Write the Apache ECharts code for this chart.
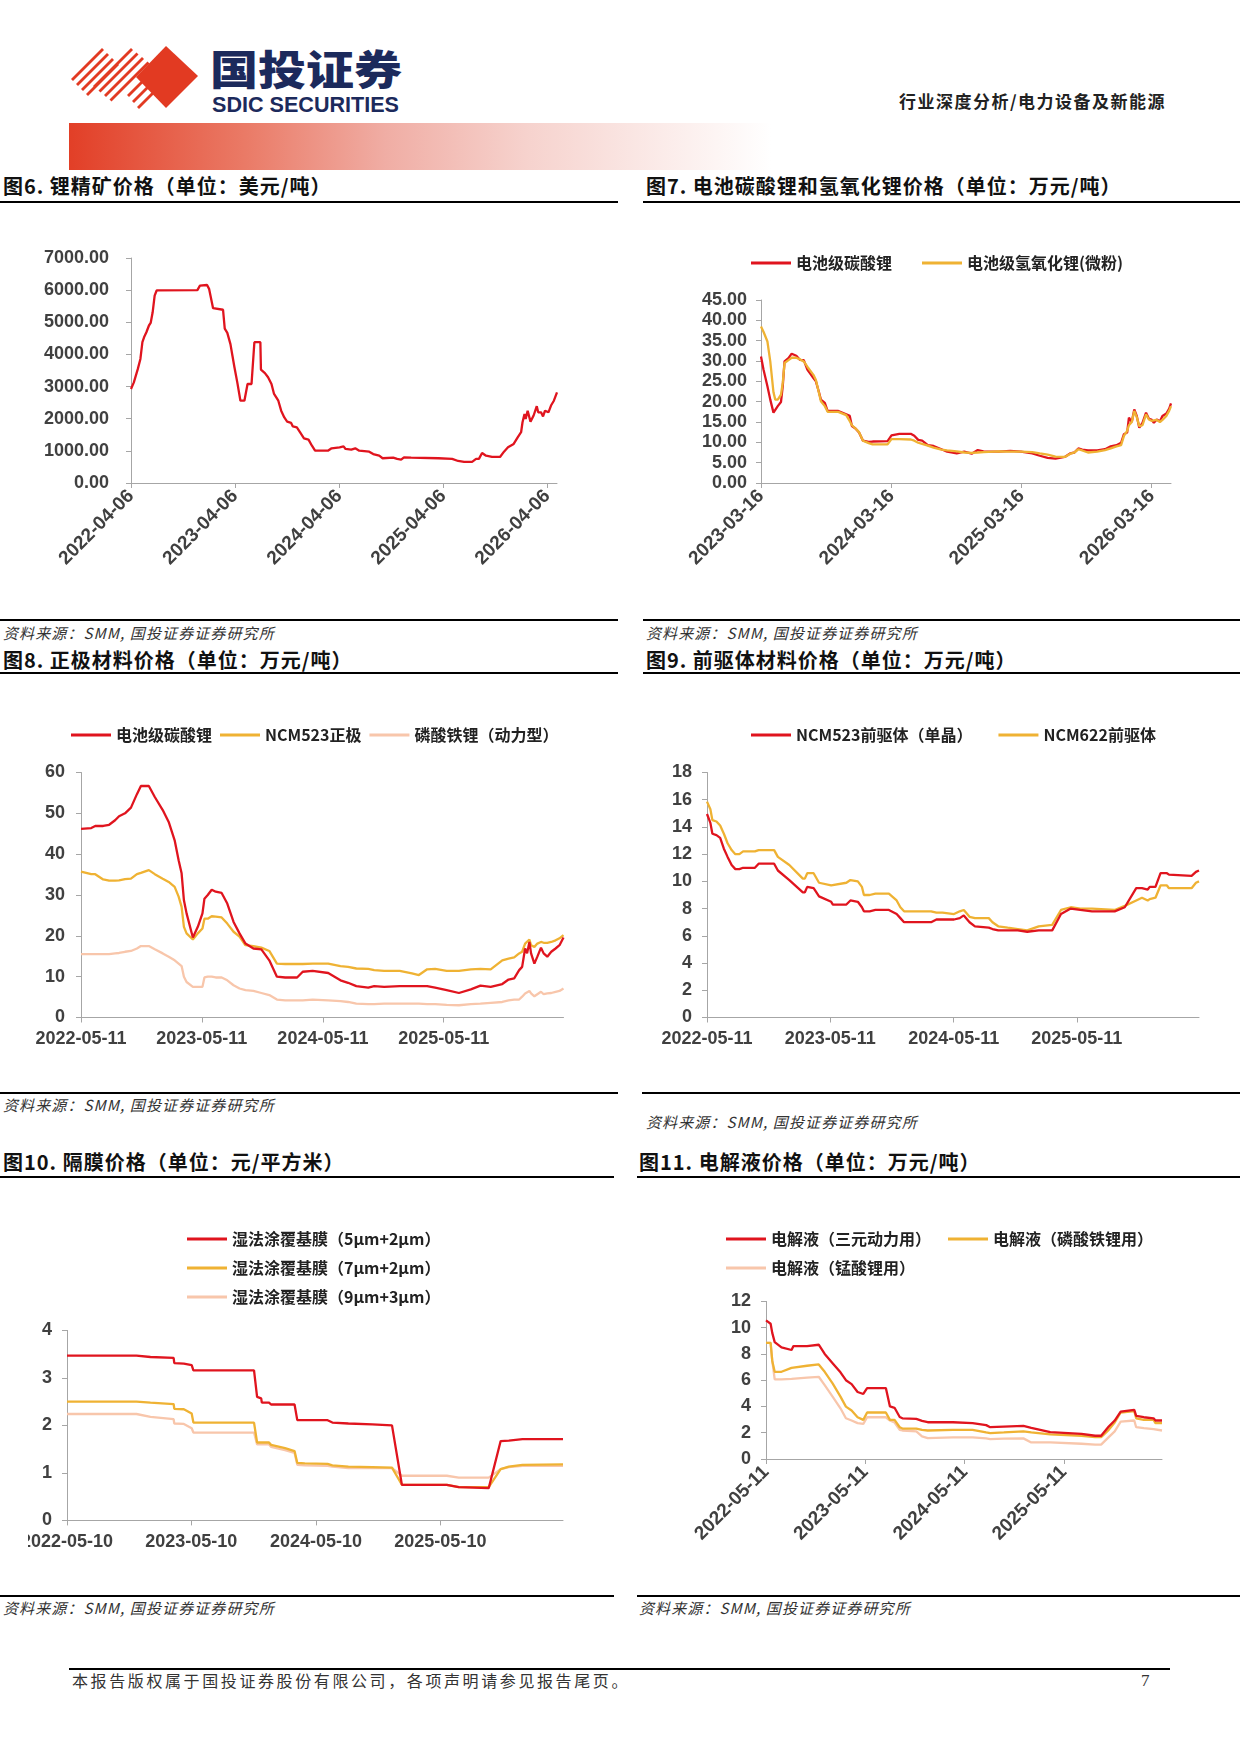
<!DOCTYPE html>
<html>
<head>
<meta charset="utf-8">
<script src="https://cdn.jsdelivr.net/npm/echarts@6.0.0/dist/echarts.min.js"></script>
<style>
  html, body { margin: 0; padding: 0; background: #fff; }
  #page { position: relative; width: 1240px; height: 1753px; overflow: hidden; background: #fff; }
  .abs { position: absolute; white-space: nowrap; }
  .title { font-family: "Noto Sans CJK SC", sans-serif; font-weight: bold; font-size: 20px; line-height: 20px; color: #111; letter-spacing: 1px; }
  .src { font-family: "Noto Sans CJK SC", sans-serif; font-style: italic; font-size: 15px; line-height: 15px; color: #333; letter-spacing: 1.1px; }
  .rule { position: absolute; background: #000; height: 2px; }
  .chart { position: absolute; }
</style>
</head>
<body>
<div id="page">
  <!-- header -->
  <svg class="abs" style="left:0;top:0" width="420" height="120">
    <g stroke="#e23a22" stroke-width="2.8" stroke-linecap="butt">
      <line x1="72" y1="80" x2="103" y2="49"/>
      <line x1="77" y1="85" x2="108" y2="54"/>
      <line x1="82" y1="90" x2="113" y2="59"/>
      <line x1="87" y1="95" x2="118" y2="64"/>
      <line x1="94" y1="87" x2="132" y2="49"/>
      <line x1="99.5" y1="91.5" x2="137.5" y2="53.5"/>
      <line x1="105" y1="96" x2="143" y2="58"/>
      <line x1="110.5" y1="100.5" x2="148.5" y2="62.5"/>
      <line x1="128" y1="96" x2="150" y2="74"/>
      <line x1="133" y1="102" x2="155" y2="80"/>
      <line x1="138" y1="108" x2="160" y2="86"/>
    </g>
    <polygon points="166,46 198,76 166,108 136,77" fill="#e23a22"/>
    <text x="210" y="85" textLength="192" lengthAdjust="spacingAndGlyphs" font-family="Noto Sans CJK SC" font-weight="900" font-size="41" fill="#1c2a5c">国投证券</text>
    <text x="212" y="112" textLength="187" lengthAdjust="spacingAndGlyphs" font-family="Liberation Sans" font-weight="bold" font-size="22" fill="#1c2a5c">SDIC SECURITIES</text>
  </svg>
  <div class="abs" style="right:74px;top:92px;font-family:'Noto Sans CJK SC';font-weight:bold;font-size:17px;line-height:18px;letter-spacing:1.5px;color:#222">行业深度分析/电力设备及新能源</div>
  <div class="abs" style="left:69px;top:123px;width:702px;height:47px;background:linear-gradient(to right,#e23f27 0%,#ea7a66 25%,#f0ada4 45%,#f6d2cd 65%,rgba(255,255,255,0) 100%)"></div>

  <!-- titles and rules -->
  <div class="abs title" style="left:3px;top:176px">图6. 锂精矿价格（单位：美元/吨）</div>
  <div class="rule" style="left:0;top:201px;width:618px"></div>
  <div class="abs title" style="left:646px;top:176px">图7. 电池碳酸锂和氢氧化锂价格（单位：万元/吨）</div>
  <div class="rule" style="left:643px;top:201px;width:597px"></div>

  <div class="rule" style="left:0;top:619px;width:618px"></div>
  <div class="abs src" style="left:3px;top:625px">资料来源：SMM, 国投证券证券研究所</div>
  <div class="rule" style="left:643px;top:619px;width:597px"></div>
  <div class="abs src" style="left:646px;top:625px">资料来源：SMM, 国投证券证券研究所</div>

  <div class="abs title" style="left:3px;top:650px">图8. 正极材料价格（单位：万元/吨）</div>
  <div class="rule" style="left:0;top:672px;width:618px"></div>
  <div class="abs title" style="left:646px;top:650px">图9. 前驱体材料价格（单位：万元/吨）</div>
  <div class="rule" style="left:643px;top:672px;width:597px"></div>

  <div class="rule" style="left:0;top:1092px;width:618px"></div>
  <div class="abs src" style="left:3px;top:1097px">资料来源：SMM, 国投证券证券研究所</div>
  <div class="rule" style="left:642px;top:1092px;width:598px"></div>
  <div class="abs src" style="left:646px;top:1114px">资料来源：SMM, 国投证券证券研究所</div>

  <div class="abs title" style="left:3px;top:1152px">图10. 隔膜价格（单位：元/平方米）</div>
  <div class="rule" style="left:0;top:1176px;width:614px"></div>
  <div class="abs title" style="left:639px;top:1152px">图11. 电解液价格（单位：万元/吨）</div>
  <div class="rule" style="left:637px;top:1176px;width:603px"></div>

  <div class="rule" style="left:0;top:1595px;width:614px"></div>
  <div class="abs src" style="left:3px;top:1600px">资料来源：SMM, 国投证券证券研究所</div>
  <div class="rule" style="left:637px;top:1595px;width:603px"></div>
  <div class="abs src" style="left:639px;top:1600px">资料来源：SMM, 国投证券证券研究所</div>

  <!-- charts -->
  <div id="c6" class="chart" style="left:0;top:210px;width:620px;height:410px"></div>
  <div id="c7" class="chart" style="left:640px;top:210px;width:600px;height:410px"></div>
  <div id="c8" class="chart" style="left:0;top:690px;width:620px;height:400px"></div>
  <div id="c9" class="chart" style="left:640px;top:690px;width:600px;height:400px"></div>
  <div id="c10" class="chart" style="left:28px;top:1185px;width:590px;height:400px"></div>
  <div id="c11" class="chart" style="left:640px;top:1185px;width:600px;height:400px"></div>

  <!-- footer -->
  <div class="rule" style="left:69px;top:1668px;width:1101px;height:1.5px"></div>
  <div class="abs" style="left:72px;top:1672px;font-family:'Noto Sans CJK SC';font-size:16px;line-height:17px;letter-spacing:2.6px;color:#333">本报告版权属于国投证券股份有限公司，各项声明请参见报告尾页。</div>
  <div class="abs" style="left:1141px;top:1672px;font-family:'Liberation Serif';font-size:17px;line-height:17px;color:#333">7</div>
</div>

<script>
// 图6 锂精矿价格（美元/吨）
const dates6 = ['2022-04-06','2022-04-16','2022-04-30','2022-05-09','2022-05-16','2022-05-23','2022-05-30','2022-06-08','2022-06-14','2022-06-21',
  '2022-06-28','2022-07-05','2022-07-10','2022-11-25','2022-12-04','2022-12-29','2023-01-05','2023-01-19','2023-02-23','2023-03-01',
  '2023-03-10','2023-03-21','2023-03-28','2023-04-04','2023-04-14','2023-04-25','2023-05-09','2023-05-20','2023-06-03','2023-06-13',
  '2023-07-04','2023-07-06','2023-07-20','2023-07-31','2023-08-12','2023-08-21','2023-09-05','2023-09-15','2023-09-26','2023-10-06',
  '2023-10-20','2023-10-26','2023-11-09','2023-11-20','2023-12-04','2023-12-20','2024-01-01','2024-01-12','2024-02-26','2024-03-10',
  '2024-04-07','2024-04-21','2024-04-28','2024-05-18','2024-06-01','2024-06-15','2024-07-20','2024-08-03','2024-08-24','2024-09-05',
  '2024-10-12','2024-10-26','2024-11-09','2024-11-19','2024-12-14','2025-03-20','2025-05-07','2025-05-28','2025-06-18','2025-07-16',
  '2025-07-30','2025-08-09','2025-08-20','2025-09-03','2025-09-24','2025-10-22','2025-11-05','2025-11-19','2025-12-09','2025-12-23',
  '2026-01-04','2026-01-09','2026-01-16','2026-01-20','2026-01-27','2026-02-06','2026-02-17','2026-02-28','2026-03-05','2026-03-15',
  '2026-03-22','2026-03-29','2026-04-10','2026-04-19','2026-04-29','2026-05-10'];
const ore6 = [2925,3130,3550,3860,4380,4560,4690,4900,4980,5310,
  5830,5990,6000,6000,6140,6160,6040,5440,5390,4800,
  4670,4320,3960,3600,3130,2560,2560,3080,3080,4380,
  4380,3530,3420,3290,3080,2770,2560,2250,2040,1910,
  1870,1760,1730,1580,1390,1350,1160,1005,1005,1080,
  1110,1140,1060,1040,1080,1005,975,900,850,770,
  790,750,730,800,790,770,750,685,655,655,
  750,750,935,850,810,810,975,1110,1215,1420,
  1580,1890,2150,1990,2250,1910,2100,2390,2200,2200,
  2070,2250,2200,2410,2560,2820];
const ticks6 = ['2022-04-06','2023-04-06','2024-04-06','2025-04-06','2026-04-06'];

// 图7 电池级碳酸锂 / 电池级氢氧化锂(微粉)（万元/吨）
const dates7 = ['2023-03-16','2023-03-23','2023-04-03','2023-04-11','2023-04-20','2023-04-25','2023-05-02','2023-05-11','2023-05-16','2023-05-21',
  '2023-06-01','2023-06-10','2023-06-23','2023-07-03','2023-07-14','2023-07-24','2023-08-10','2023-08-17','2023-08-26','2023-08-31',
  '2023-09-11','2023-09-19','2023-10-19','2023-11-10','2023-11-20','2023-11-26','2023-12-06','2023-12-16','2023-12-27','2024-01-12',
  '2024-01-23','2024-03-05','2024-03-16','2024-04-07','2024-05-09','2024-05-19','2024-05-30','2024-06-10','2024-06-26','2024-07-12',
  '2024-08-03','2024-08-19','2024-09-15','2024-10-06','2024-10-27','2024-11-13','2024-11-29','2025-01-11','2025-02-12','2025-03-14',
  '2025-04-15','2025-05-06','2025-05-28','2025-06-19','2025-07-15','2025-07-31','2025-08-11','2025-08-22','2025-09-02','2025-09-18',
  '2025-10-14','2025-11-05','2025-11-21','2025-12-07','2025-12-20','2025-12-28','2026-01-06','2026-01-11','2026-01-19','2026-01-26',
  '2026-02-02','2026-02-09','2026-02-18','2026-02-28','2026-03-08','2026-03-15','2026-03-22','2026-03-30','2026-04-08','2026-04-15',
  '2026-04-26','2026-05-04','2026-05-09'];
const carb7 = [31.1,27.9,23.8,20.5,17.3,17.3,18.9,19.9,23.8,29.9,
  30.7,31.8,31.3,30.3,30.2,27.9,25.8,25.0,22.2,20.5,
  19.7,17.7,17.7,16.9,16.5,14.0,13.4,12.4,10.4,10.1,
  10.2,10.3,11.7,12.1,12.1,11.6,10.6,10.4,9.3,9.1,
  8.3,7.7,7.3,7.7,7.2,8.1,7.8,7.7,7.9,7.7,
  7.3,6.7,6.2,6.0,6.4,7.3,7.5,8.5,8.2,8.0,
  8.0,8.3,9.0,9.3,9.9,12.0,12.4,16.1,15.0,18.1,
  16.5,13.6,14.8,17.3,15.8,15.6,14.8,15.6,15.2,16.5,
  17.1,18.3,19.6];
const hydro7 = [38.5,37.2,34.8,29.9,22.3,20.5,20.5,21.7,24.6,29.5,
  30.2,30.8,30.8,30.4,29.9,28.6,26.6,25.3,22.0,20.1,
  18.9,17.5,17.5,16.7,15.2,14.2,13.4,12.5,10.4,9.8,
  9.5,9.5,10.8,10.8,10.7,10.4,9.9,9.6,9.2,8.7,
  8.2,8.0,7.8,7.5,7.4,7.5,7.6,7.8,7.7,7.7,
  7.6,7.3,7.0,6.5,6.4,7.2,7.5,8.3,8.0,7.5,
  7.7,8.1,8.5,9.0,9.3,11.6,12.8,14.2,15.0,17.7,
  16.2,14.0,14.2,16.9,15.6,15.3,15.4,15.5,15.0,15.5,
  16.5,17.8,18.9];
const ticks7 = ['2023-03-16','2024-03-16','2025-03-16','2026-03-16'];

// 图8 正极材料价格（万元/吨）
const dates8 = ['2022-05-11','2022-06-11','2022-06-23','2022-07-17','2022-08-04','2022-08-22','2022-09-03','2022-09-21','2022-10-09','2022-10-27',
  '2022-11-08','2022-12-02','2022-12-20','2023-01-13','2023-01-31','2023-02-18','2023-03-02','2023-03-11','2023-03-18','2023-03-26',
  '2023-04-14','2023-04-29','2023-05-13','2023-05-19','2023-05-29','2023-06-10','2023-06-22','2023-07-10','2023-07-27','2023-08-15',
  '2023-09-02','2023-09-20','2023-10-14','2023-11-07','2023-12-01','2023-12-24','2024-01-18','2024-02-23','2024-03-11','2024-04-10',
  '2024-05-27','2024-07-03','2024-07-26','2024-08-20','2024-09-25','2024-10-13','2024-11-12','2024-12-29','2025-02-04','2025-02-25',
  '2025-03-22','2025-04-15','2025-05-20','2025-06-26','2025-08-01','2025-08-30','2025-09-30','2025-11-04','2025-11-23','2025-12-10',
  '2025-12-25','2026-01-03','2026-01-12','2026-01-18','2026-01-25','2026-01-30','2026-02-09','2026-02-18','2026-03-01','2026-03-09',
  '2026-03-20','2026-04-01','2026-04-14','2026-04-26','2026-05-08'];
const carb8 = [46.2,46.4,46.9,46.9,47.2,48.3,49.3,50.0,51.4,54.7,
  56.7,56.7,54.0,50.8,47.9,43.4,38.5,35.3,28.7,25.5,
  19.6,22.2,25.5,29.1,30.0,31.3,30.8,30.5,27.9,23.4,
  20.6,18.1,16.9,16.7,14.0,10.0,9.8,9.8,11.2,11.4,
  10.9,9.1,8.5,7.7,7.3,7.7,7.5,7.7,7.7,7.7,
  7.7,7.3,6.7,6.0,6.9,7.8,7.5,8.2,9.3,9.6,
  11.6,12.4,16.9,15.7,18.5,15.7,13.2,14.9,17.1,15.7,
  14.9,16.1,16.9,17.7,19.6];
const ncm8 = [35.7,35.1,35.1,33.8,33.5,33.5,33.6,33.9,34.0,35.1,
  35.4,36.1,35.1,34.0,33.2,32.0,29.6,27.1,22.2,20.6,
  19.1,20.6,21.8,24.2,24.2,24.8,24.7,24.5,23.0,21.0,
  19.8,17.7,17.5,17.1,16.3,13.2,13.1,13.1,13.1,13.2,
  13.2,12.6,12.4,12.0,11.9,11.6,11.4,11.4,10.8,10.4,
  11.8,11.9,11.4,11.4,11.8,11.9,11.8,14.0,14.4,14.7,
  15.7,16.1,18.1,18.5,19.1,17.7,17.3,18.1,18.5,18.3,
  18.3,18.5,18.9,19.4,20.2];
const lfp8 = [15.5,15.5,15.5,15.5,15.5,15.7,15.8,16.1,16.3,16.9,
  17.5,17.5,16.7,15.7,14.9,14.0,13.2,12.6,10.0,8.7,
  7.5,7.5,7.5,9.8,10.0,10.0,9.8,9.8,9.1,7.9,
  7.1,6.7,6.5,6.0,5.5,4.4,4.2,4.2,4.2,4.4,
  4.2,4.0,3.8,3.4,3.3,3.3,3.4,3.4,3.4,3.4,
  3.3,3.3,3.1,3.0,3.3,3.4,3.6,3.8,4.2,4.4,
  4.4,5.1,5.9,6.3,6.5,5.9,5.2,5.7,6.3,5.7,
  5.9,6.0,6.3,6.5,7.1];
const ticks8 = ['2022-05-11','2023-05-11','2024-05-11','2025-05-11'];

// 图9 前驱体材料价格（万元/吨）
const dates9 = ['2022-05-11','2022-05-21','2022-05-27','2022-06-08','2022-06-19','2022-06-30','2022-07-11','2022-07-23','2022-08-03','2022-08-15',
  '2022-08-26','2022-09-30','2022-10-11','2022-11-26','2022-12-07','2023-01-10','2023-02-19','2023-02-25','2023-03-04','2023-03-23',
  '2023-04-08','2023-05-14','2023-05-19','2023-06-28','2023-07-10','2023-08-01','2023-08-13','2023-08-19','2023-09-05','2023-09-22',
  '2023-11-01','2023-11-24','2023-12-05','2023-12-16','2024-03-05','2024-03-21','2024-04-08','2024-05-12','2024-05-29','2024-06-10',
  '2024-06-27','2024-07-13','2024-08-23','2024-09-03','2024-09-20','2024-10-18','2024-11-17','2024-11-22','2024-12-15','2025-01-18',
  '2025-02-27','2025-03-25','2025-04-23','2025-05-21','2025-06-25','2025-08-31','2025-09-30','2025-11-03','2025-11-20','2025-12-07',
  '2025-12-13','2025-12-30','2026-01-14','2026-02-02','2026-02-08','2026-04-16','2026-04-29','2026-05-08'];
const pre523 = [14.95,14.3,13.5,13.4,13.2,12.4,11.8,11.2,10.9,10.9,
  11.0,11.0,11.3,11.3,10.8,10.1,9.2,9.2,9.6,9.5,
  8.9,8.5,8.3,8.3,8.6,8.5,8.1,7.8,7.8,7.9,
  7.9,7.6,7.3,7.0,7.0,7.2,7.2,7.2,7.3,7.5,
  7.0,6.7,6.6,6.5,6.4,6.4,6.4,6.3,6.3,6.4,
  6.4,7.6,8.0,7.9,7.8,7.8,8.1,9.5,9.5,9.4,
  9.6,9.6,10.6,10.6,10.5,10.4,10.7,10.8];
const pre622 = [15.86,15.3,14.5,14.4,14.1,13.5,12.8,12.3,12.0,12.0,
  12.2,12.2,12.3,12.3,11.8,11.2,10.2,10.2,10.6,10.6,
  9.9,9.7,9.7,9.9,10.1,10.0,9.6,9.0,9.0,9.1,
  9.1,8.6,8.1,7.8,7.8,7.7,7.7,7.6,7.8,7.9,
  7.4,7.3,7.3,7.0,6.7,6.6,6.5,6.4,6.4,6.7,
  6.8,7.9,8.1,8.0,8.0,7.9,8.2,8.6,8.8,8.6,
  8.7,8.8,9.7,9.7,9.5,9.5,9.9,10.0];
const ticks9 = ['2022-05-11','2023-05-11','2024-05-11','2025-05-11'];

// 图10 隔膜价格（元/平方米）
const dates10 = ['2022-05-10','2022-11-30','2023-01-10','2023-03-19','2023-03-21','2023-04-18','2023-05-11','2023-05-16','2023-11-10','2023-11-19',
  '2023-12-01','2023-12-03','2023-12-24','2023-12-30','2024-02-09','2024-03-08','2024-03-16','2024-04-07','2024-06-13','2024-06-27',
  '2024-08-13','2024-10-22','2024-12-19','2025-01-17','2025-05-29','2025-07-03','2025-09-29','2025-11-03','2025-11-27','2026-01-06',
  '2026-05-05'];
const sep52 = [3.47,3.47,3.44,3.42,3.31,3.30,3.27,3.16,3.16,2.60,
  2.57,2.48,2.48,2.44,2.44,2.44,2.11,2.11,2.11,2.06,
  2.04,2.02,2.00,0.75,0.75,0.70,0.68,1.67,1.68,1.71,
  1.71];
const sep72 = [2.50,2.50,2.48,2.45,2.35,2.34,2.25,2.06,2.06,1.64,
  1.64,1.64,1.64,1.59,1.52,1.46,1.21,1.20,1.19,1.16,
  1.13,1.12,1.11,0.75,0.75,0.70,0.70,1.08,1.13,1.17,
  1.18];
const sep93 = [2.24,2.24,2.18,2.13,2.04,2.03,1.94,1.85,1.85,1.60,
  1.60,1.60,1.60,1.55,1.48,1.42,1.17,1.16,1.15,1.13,
  1.10,1.10,1.10,0.94,0.94,0.90,0.90,1.08,1.12,1.15,
  1.15];
const ticks10 = ['2022-05-10','2023-05-10','2024-05-10','2025-05-10'];

// 图11 电解液价格（万元/吨）
const dates11 = ['2022-05-11','2022-05-28','2022-06-03','2022-06-12','2022-07-07','2022-08-13','2022-08-20','2022-10-09','2022-11-21','2022-12-13',
  '2023-01-11','2023-02-09','2023-03-01','2023-03-22','2023-04-13','2023-05-04','2023-05-18','2023-07-26','2023-08-10','2023-08-27',
  '2023-09-15','2023-09-25','2023-11-15','2023-12-06','2023-12-27','2024-03-29','2024-06-09','2024-07-29','2024-08-13','2024-10-02',
  '2024-12-13','2025-01-11','2025-03-22','2025-07-15','2025-09-03','2025-09-25','2025-10-23','2025-11-14','2025-12-06','2026-01-25',
  '2026-02-01','2026-03-01','2026-04-06','2026-04-13','2026-05-07'];
const elNcm = [10.56,10.3,9.6,8.9,8.5,8.3,8.6,8.6,8.7,8.0,
  7.3,6.6,6.0,5.7,5.1,4.95,5.4,5.4,4.0,3.9,
  3.2,3.1,3.05,2.9,2.8,2.8,2.73,2.58,2.42,2.47,
  2.52,2.37,2.05,1.92,1.77,1.77,2.47,2.93,3.61,3.74,
  3.28,3.18,3.1,2.93,2.93];
const elLfp = [8.84,8.84,7.47,6.64,6.64,6.94,6.96,7.1,7.2,6.64,
  5.76,4.75,3.99,3.69,3.18,2.98,3.54,3.54,2.98,2.98,
  2.42,2.32,2.32,2.22,2.17,2.22,2.22,2.02,1.97,2.02,
  2.1,2.02,1.87,1.77,1.67,1.67,2.22,2.78,3.54,3.64,
  3.10,2.98,2.98,2.73,2.73];
const elLmo = [8.84,8.84,7.5,6.06,6.06,6.1,6.1,6.2,6.26,5.63,
  4.75,3.86,3.1,2.93,2.73,2.68,3.18,3.18,2.93,2.78,
  2.22,2.17,2.10,1.72,1.59,1.64,1.64,1.57,1.52,1.55,
  1.57,1.26,1.26,1.16,1.09,1.09,1.67,2.10,2.85,2.93,
  2.42,2.35,2.27,2.17,2.17];
const ticks11 = ['2022-05-11','2023-05-11','2024-05-11','2025-05-11'];

const RED = '#e0141e', YELLOW = '#efb233', PINK = '#f8c6ab';
const axisColor = '#a6a6a6';
const labelColor = '#404040';
const numFont = 'Liberation Sans';
const cjkFont = 'Noto Sans CJK SC';

function ts(s) {
  const p = s.split('-').map(Number);
  return new Date(p[0], p[1] - 1, p[2]).getTime();
}
function fmtDate(v) {
  const d = new Date(v);
  const pad = n => (n < 10 ? '0' : '') + n;
  return d.getFullYear() + '-' + pad(d.getMonth() + 1) + '-' + pad(d.getDate());
}
function line(name, color, dates, vals) {
  return {
    name: name,
    type: 'line',
    data: dates.map((d, i) => [ts(d), vals[i]]),
    symbol: 'none',
    showSymbol: false,
    lineStyle: { color: color, width: 2.3 },
    itemStyle: { color: color },
    animation: false
  };
}
// x axis is a value axis on timestamps, ticks only at the report's yearly dates
function xAxis(min, max, ticks, rotate) {
  const tv = ticks.map(ts);
  return {
    type: 'value',
    min: ts(min),
    max: ts(max),
    scale: true,
    axisLine: { show: true, onZero: false, lineStyle: { color: axisColor, width: 1 } },
    axisTick: { show: true, customValues: tv, length: 5, lineStyle: { color: axisColor } },
    splitLine: { show: false },
    axisLabel: {
      customValues: tv,
      formatter: v => fmtDate(v),
      rotate: rotate ? 45 : 0,
      fontFamily: numFont,
      fontWeight: 'bold',
      fontSize: rotate ? 19 : 18,
      color: labelColor,
      margin: rotate ? 10 : 13,
      showMinLabel: true,
      showMaxLabel: true
    }
  };
}
function yAxis(max, interval, digits, margin) {
  return {
    type: 'value',
    min: 0,
    max: max,
    interval: interval,
    axisLine: { show: true, lineStyle: { color: axisColor, width: 1 } },
    axisTick: { show: true, length: 5, lineStyle: { color: axisColor } },
    splitLine: { show: false },
    axisLabel: {
      formatter: v => v.toFixed(digits),
      fontFamily: numFont,
      fontWeight: 'bold',
      fontSize: 18,
      color: labelColor,
      margin: margin
    }
  };
}
function legend(opts) {
  return Object.assign({
    icon: 'rect',
    itemWidth: 40,
    itemHeight: 3,
    textStyle: { fontFamily: cjkFont, fontWeight: 'bold', fontSize: 16, color: '#222' },
    selectedMode: false
  }, opts);
}
function grid(left, top, width, height) {
  return { left: left, top: top, width: width, height: height, containLabel: false, outerBoundsMode: 'none' };
}

// 图6
var c6 = echarts.init(document.getElementById('c6'));
c6.setOption({
  animation: false,
  grid: grid(131, 48, 426, 225),
  xAxis: xAxis('2022-04-06', '2026-05-10', ticks6, true),
  yAxis: yAxis(7000, 1000, 2, 22),
  series: [line('锂精矿', RED, dates6, ore6)]
});

// 图7
var c7 = echarts.init(document.getElementById('c7'));
c7.setOption({
  animation: false,
  legend: legend({ left: 106, top: 40, itemGap: 30, data: ['电池级碳酸锂', '电池级氢氧化锂(微粉)'] }),
  grid: grid(121, 90, 410, 183),
  xAxis: xAxis('2023-03-16', '2026-05-09', ticks7, true),
  yAxis: yAxis(45, 5, 2, 14),
  series: [
    line('电池级碳酸锂', RED, dates7, carb7),
    line('电池级氢氧化锂(微粉)', YELLOW, dates7, hydro7)
  ]
});

// 图8
var c8 = echarts.init(document.getElementById('c8'));
c8.setOption({
  animation: false,
  legend: legend({ left: 66, top: 32, itemGap: 8, data: ['电池级碳酸锂', 'NCM523正极', '磷酸铁锂（动力型）'] }),
  grid: grid(81, 82.5, 482.5, 245),
  xAxis: xAxis('2022-05-11', '2026-05-08', ticks8, false),
  yAxis: yAxis(60, 10, 0, 16),
  series: [
    line('磷酸铁锂（动力型）', PINK, dates8, lfp8),
    line('NCM523正极', YELLOW, dates8, ncm8),
    line('电池级碳酸锂', RED, dates8, carb8)
  ]
});

// 图9
var c9 = echarts.init(document.getElementById('c9'));
c9.setOption({
  animation: false,
  legend: legend({ left: 106, top: 32, itemGap: 26, data: ['NCM523前驱体（单晶）', 'NCM622前驱体'] }),
  grid: grid(67, 82.5, 492, 245),
  xAxis: xAxis('2022-05-11', '2026-05-08', ticks9, false),
  yAxis: yAxis(18, 2, 0, 15),
  series: [
    line('NCM622前驱体', YELLOW, dates9, pre622),
    line('NCM523前驱体（单晶）', RED, dates9, pre523)
  ]
});

// 图10
var c10 = echarts.init(document.getElementById('c10'));
c10.setOption({
  animation: false,
  legend: legend({ orient: 'vertical', left: 154, top: 41, itemGap: 13,
    data: ['湿法涂覆基膜（5μm+2μm）', '湿法涂覆基膜（7μm+2μm）', '湿法涂覆基膜（9μm+3μm）'] }),
  grid: grid(39, 145.4, 496, 190),
  xAxis: xAxis('2022-05-10', '2026-05-05', ticks10, false),
  yAxis: yAxis(4, 1, 0, 15),
  series: [
    line('湿法涂覆基膜（9μm+3μm）', PINK, dates10, sep93),
    line('湿法涂覆基膜（7μm+2μm）', YELLOW, dates10, sep72),
    line('湿法涂覆基膜（5μm+2μm）', RED, dates10, sep52)
  ]
});

// 图11
var c11 = echarts.init(document.getElementById('c11'));
c11.setOption({
  animation: false,
  legend: [
    legend({ left: 81, top: 41, itemGap: 17, data: ['电解液（三元动力用）', '电解液（磷酸铁锂用）'] }),
    legend({ left: 81, top: 70, data: ['电解液（锰酸锂用）'] })
  ],
  grid: grid(126, 116.4, 396, 157.6),
  xAxis: xAxis('2022-05-11', '2026-05-07', ticks11, true),
  yAxis: yAxis(12, 2, 0, 15),
  series: [
    line('电解液（锰酸锂用）', PINK, dates11, elLmo),
    line('电解液（磷酸铁锂用）', YELLOW, dates11, elLfp),
    line('电解液（三元动力用）', RED, dates11, elNcm)
  ]
});
</script>
</body>
</html>
